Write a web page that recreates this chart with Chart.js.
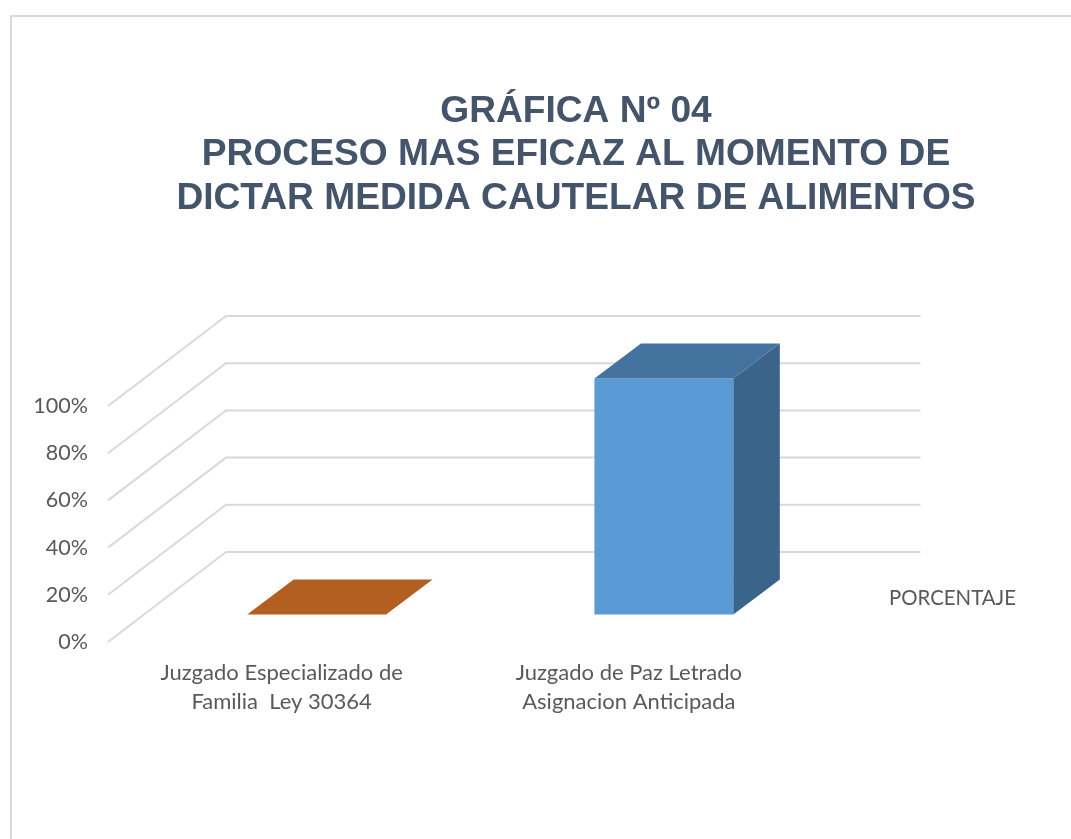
<!DOCTYPE html>
<html>
<head>
<meta charset="utf-8">
<title>Gráfica Nº 04</title>
<script src="https://cdn.jsdelivr.net/npm/chart.js@4"></script>
<style>
  html, body { margin:0; padding:0; background:#fff; overflow:hidden; }
  #wrap { position:relative; width:1071px; height:839px; overflow:hidden; }
  #frame { position:absolute; left:10px; top:15px; right:-10px; bottom:-10px; border:2px solid #d9d9d9; }
  #c { position:absolute; left:0; top:0; }
</style>
</head>
<body>
<div id="wrap">
  <div id="frame"></div>
  <canvas id="c" width="1071" height="839" style="width:1071px;height:839px"></canvas>
</div>
<script>
// ── Data ──────────────────────────────────────────────────────
const titleLines = ['GRÁFICA Nº 04', 'PROCESO MAS EFICAZ AL MOMENTO DE', 'DICTAR MEDIDA CAUTELAR DE ALIMENTOS'];
const categories = [['Juzgado Especializado de', 'Familia  Ley 30364'], ['Juzgado de Paz Letrado', 'Asignacion Anticipada']];
const seriesName = 'PORCENTAJE';
const values     = [0, 100];
const frontColors = ['#ed7d31', '#5b9bd5'];
const topColors   = ['#b45f22', '#44739f'];
const sideColors  = ['#8e4a1a', '#3a6489'];

// ── 3D look: wall depth and where the bars sit inside it ──────
const WALL_DX = 118, WALL_DY = -90;
const BAR_DX = 35, BAR_DY = -27.5;
const CUBE_DX = 46.5, CUBE_DY = -35;
const GRID = '#d9d9d9';

function poly(ctx, pts, color) {
  ctx.fillStyle = color;
  ctx.beginPath();
  pts.forEach((p, i) => i ? ctx.lineTo(p[0], p[1]) : ctx.moveTo(p[0], p[1]));
  ctx.closePath();
  ctx.fill();
}

const cube3d = {
  id: 'cube3d',
  beforeDatasetsDraw(chart) {
    const { ctx, chartArea: a, scales: { y } } = chart;
    ctx.save();
    ctx.strokeStyle = GRID;
    ctx.lineWidth = 2;
    y.ticks.forEach(t => {
      const py = y.getPixelForValue(t.value);
      ctx.beginPath();
      ctx.moveTo(a.left, py);
      ctx.lineTo(a.left + WALL_DX, py + WALL_DY);
      ctx.lineTo(a.right + WALL_DX, py + WALL_DY);
      ctx.stroke();
    });

    // title sits centred on the whole frame, not on the plot
    ctx.fillStyle = '#44546a';
    ctx.font = 'bold 37.15px "Liberation Sans"';
    ctx.textAlign = 'center';
    ctx.textBaseline = 'middle';
    titleLines.forEach((line, i) => ctx.fillText(line, 576, 111.5 + i * 43.5));

    ctx.fillStyle = '#595959';
    ctx.font = '20.4px Lato';
    ctx.textAlign = 'left';
    ctx.fillText(seriesName, 889, 598);
    ctx.restore();
  },
  beforeDatasetDraw(chart) {
    chart.ctx.save();
    chart.ctx.translate(BAR_DX, BAR_DY);
  },
  afterDatasetDraw(chart, args) {
    const ctx = chart.ctx;
    args.meta.data.forEach((bar, i) => {
      const l = bar.x - bar.width / 2, r = bar.x + bar.width / 2;
      poly(ctx, [[l, bar.y], [r, bar.y], [r + CUBE_DX, bar.y + CUBE_DY], [l + CUBE_DX, bar.y + CUBE_DY]], topColors[i]);
      if (bar.base - bar.y > 0) {
        poly(ctx, [[r, bar.y], [r + CUBE_DX, bar.y + CUBE_DY], [r + CUBE_DX, bar.base + CUBE_DY], [r, bar.base]], sideColors[i]);
      }
    });
    ctx.restore();
  }
};

// ── Chart ─────────────────────────────────────────────────────
new Chart(document.getElementById('c'), {
  type: 'bar',
  plugins: [cube3d],
  data: {
    labels: categories,
    datasets: [{
      label: seriesName,
      data: values,
      backgroundColor: frontColors,
      borderWidth: 0,
      barPercentage: 0.4,
      categoryPercentage: 1,
      clip: false
    }]
  },
  options: {
    responsive: false,
    animation: false,
    layout: { padding: { left: 18, right: 268.5, top: 406, bottom: 118 } },
    plugins: {
      legend: { display: false },
      tooltip: { enabled: false },
      title: { display: false }
    },
    scales: {
      x: {
        grid: { display: false, drawTicks: false },
        border: { display: false },
        ticks: { color: '#595959', font: { family: 'Lato', size: 22, lineHeight: 1.32 }, padding: 16, maxRotation: 0, autoSkip: false },
        afterFit: s => { s.height = 79; }
      },
      y: {
        min: 0,
        max: 100,
        grid: { display: false, drawTicks: false },
        border: { display: false },
        ticks: { stepSize: 20, color: '#595959', font: { family: 'Lato', size: 21.5 }, padding: 20, callback: v => v + '%' },
        afterFit: s => { s.width = 90; }
      }
    }
  }
});
</script>
</body>
</html>
